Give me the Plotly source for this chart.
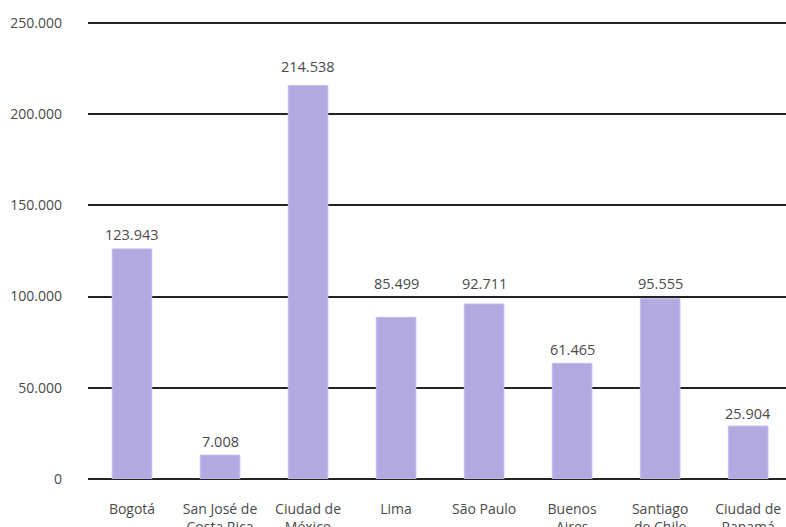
import plotly.graph_objects as go

categories = ["Bogotá", "San José de<br>Costa Rica", "Ciudad de<br>México", "Lima",
              "São Paulo", "Buenos<br>Aires", "Santiago<br>de Chile", "Ciudad de<br>Panamá"]
# bar heights as drawn in the picture
bar_heights = [126100, 13100, 215600, 88600, 95900, 63400, 98800, 29000]
# data labels as printed
label_texts = ["123.943", "7.008", "214.538", "85.499", "92.711", "61.465", "95.555", "25.904"]
y_ticks = [0, 50000, 100000, 150000, 200000, 250000]

# style: vertical pixel offset of each label above its bar top
label_shift = [14, 14, 19, 34, 21, 14, 15, 13]

FONT = "Open Sans, Noto Sans, sans-serif"
TXT = "#4a4a4a"

fig = go.Figure()
fig.add_trace(go.Bar(
    x=list(range(len(categories))), y=bar_heights,
    marker=dict(color="#b1a9df", line=dict(color="#c4beea", width=1)),
    width=0.45, hoverinfo="skip",
))

for i, (h, t, s) in enumerate(zip(bar_heights, label_texts, label_shift)):
    fig.add_annotation(x=i, y=h, text=t, showarrow=False, yanchor="middle",
                       yshift=s, font=dict(family=FONT, size=14.5, color=TXT))

fig.update_layout(
    width=786, height=527,
    margin=dict(l=88, r=0, t=21, b=48, pad=0),
    paper_bgcolor="white", plot_bgcolor="white",
    separators=",.",
    showlegend=False,
    font=dict(family=FONT, size=14, color=TXT),
    xaxis=dict(
        range=[-0.5, 7.43], tickmode="array",
        tickvals=list(range(len(categories))), ticktext=categories,
        showgrid=False, zeroline=False, showline=False,
        ticks="", ticklabelstandoff=20, automargin=False,
        tickfont=dict(family=FONT, size=14, color=TXT),
    ),
    yaxis=dict(
        range=[0, 251000], tickmode="array", tickvals=y_ticks,
        tickformat=",d",
        showgrid=True, gridcolor="#222222", gridwidth=1.5,
        zeroline=True, zerolinecolor="#222222", zerolinewidth=1.5,
        showline=False, ticks="", ticklabelstandoff=25, automargin=False,
        tickfont=dict(family=FONT, size=14, color=TXT),
    ),
)

fig.write_html("out.html")
